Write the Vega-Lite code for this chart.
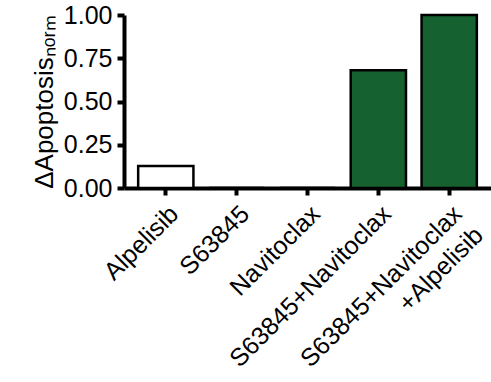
{
  "$schema": "https://vega.github.io/schema/vega-lite/v6.json",
  "autosize": "none",
  "width": 367,
  "height": 173,
  "padding": {"left": 124, "top": 15, "right": 0, "bottom": 194},
  "background": "white",
  "config": {
    "view": {"stroke": null},
    "font": "Liberation Sans"
  },
  "data": {
    "values": [
      {"treatment": "Alpelisib", "delta": 0.127, "combo": "single"},
      {"treatment": "S63845", "delta": 0.0, "combo": "single"},
      {"treatment": "Navitoclax", "delta": 0.0, "combo": "single"},
      {"treatment": "S63845+Navitoclax", "delta": 0.68, "combo": "combination"},
      {"treatment": "S63845+Navitoclax|+Alpelisib", "delta": 1.0, "combo": "combination"}
    ]
  },
  "mark": {"type": "bar", "stroke": "black", "strokeWidth": 2.5},
  "encoding": {
    "x": {
      "field": "treatment",
      "type": "nominal",
      "sort": null,
      "scale": {"paddingInner": 0.22, "paddingOuter": 0.2},
      "axis": {
        "title": null,
        "domainColor": "black",
        "domainWidth": 4,
        "tickColor": "black",
        "tickWidth": 4,
        "tickSize": 7,
        "labelAngle": -45,
        "labelAlign": "right",
        "labelBaseline": "top",
        "labelFontSize": 25,
        "labelColor": "black",
        "labelPadding": 6,
        "labelOffset": 0,
        "labelLineHeight": 30,
        "labelLimit": 0,
        "labelOverlap": false,
        "labelBound": false,
        "labelExpr": "split(datum.label, '|')"
      }
    },
    "y": {
      "field": "delta",
      "type": "quantitative",
      "scale": {"domain": [0, 1], "nice": false},
      "axis": {
        "title": "ΔApoptosisₙₒᵣₘ",
        "titleFontSize": 26,
        "titleFontWeight": "normal",
        "titleColor": "black",
        "titlePadding": 6,
        "values": [0, 0.25, 0.5, 0.75, 1],
        "format": ".2f",
        "grid": false,
        "domainColor": "black",
        "domainWidth": 4,
        "tickColor": "black",
        "tickWidth": 4,
        "tickSize": 7,
        "labelFontSize": 25,
        "labelColor": "black",
        "labelPadding": 5
      }
    },
    "fill": {
      "field": "combo",
      "type": "nominal",
      "scale": {"domain": ["single", "combination"], "range": ["white", "#156230"]},
      "legend": null
    }
  }
}
